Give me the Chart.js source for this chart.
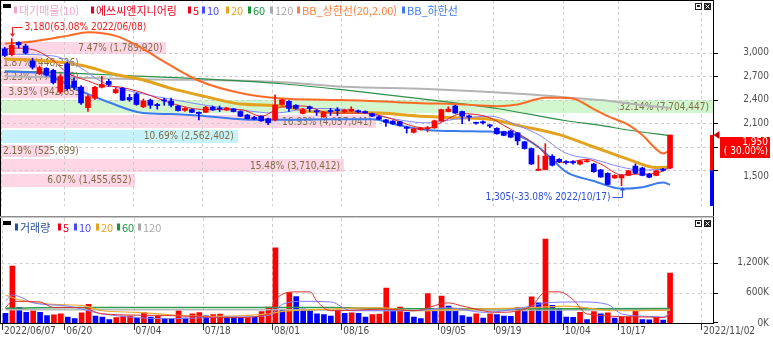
<!DOCTYPE html>
<html lang="ko"><head><meta charset="utf-8"><title>에쓰씨엔지니어링</title>
<script src="https://cdn.jsdelivr.net/npm/chart.js@4.4.1/dist/chart.umd.min.js"></script>
<style>
html,body{margin:0;padding:0;background:#fff;overflow:hidden;width:773px;height:341px}
#wrap{position:relative;width:773px;height:341px}
canvas{position:absolute;left:0;display:block}
</style></head><body>
<div id="wrap">
<canvas id="cp" width="773" height="218" style="top:0;width:773px;height:218px"></canvas>
<canvas id="cv" width="773" height="123" style="top:218px;width:773px;height:123px"></canvas>
</div>
<script>
// ---------------- DATA ----------------
const dates = ['2022/06/07','2022/06/08','2022/06/09','2022/06/10','2022/06/13','2022/06/14','2022/06/15','2022/06/16','2022/06/17','2022/06/20','2022/06/21','2022/06/22','2022/06/23','2022/06/24','2022/06/27','2022/06/28','2022/06/29','2022/06/30','2022/07/01','2022/07/04','2022/07/05','2022/07/06','2022/07/07','2022/07/08','2022/07/11','2022/07/12','2022/07/13','2022/07/14','2022/07/15','2022/07/18','2022/07/19','2022/07/20','2022/07/21','2022/07/22','2022/07/25','2022/07/26','2022/07/27','2022/07/28','2022/07/29','2022/08/01','2022/08/02','2022/08/03','2022/08/04','2022/08/05','2022/08/08','2022/08/09','2022/08/10','2022/08/11','2022/08/12','2022/08/16','2022/08/17','2022/08/18','2022/08/19','2022/08/22','2022/08/23','2022/08/24','2022/08/25','2022/08/26','2022/08/29','2022/08/30','2022/08/31','2022/09/01','2022/09/02','2022/09/05','2022/09/06','2022/09/07','2022/09/08','2022/09/13','2022/09/14','2022/09/15','2022/09/16','2022/09/19','2022/09/20','2022/09/21','2022/09/22','2022/09/23','2022/09/26','2022/09/27','2022/09/28','2022/09/29','2022/09/30','2022/10/04','2022/10/05','2022/10/06','2022/10/07','2022/10/11','2022/10/12','2022/10/13','2022/10/14','2022/10/17','2022/10/18','2022/10/19','2022/10/20','2022/10/21','2022/10/24','2022/10/25','2022/10/26'];

const opens  = [3050,2975,3130,3085,2895,2735,2800,2775,2500,2860,2640,2560,2300,2420,2560,2635,2490,2545,2430,2475,2310,2395,2340,2400,2385,2320,2265,2275,2240,2240,2305,2290,2270,2285,2250,2206,2175,2190,2158,2143,2340,2380,2330,2226,2310,2260,2183,2260,2270,2245,2255,2260,2250,2222,2183,2144,2128,2120,2050,1985,2020,2030,2041,2132,2250,2321,2250,2195,2110,2120,2080,2036,1994,2002,1978,1864,1778,1500,1510,1680,1640,1610,1610,1580,1610,1580,1506,1462,1403,1403,1435,1553,1530,1450,1435,1515,1530];
const highs  = [3070,3180,3140,3110,2930,2830,2810,2790,2720,2880,2680,2580,2460,2570,2700,2660,2555,2560,2470,2490,2410,2410,2355,2420,2420,2330,2300,2285,2245,2315,2320,2320,2305,2290,2260,2215,2190,2195,2165,2464,2410,2390,2340,2290,2320,2270,2250,2290,2300,2280,2310,2270,2260,2230,2195,2150,2135,2125,2060,2035,2050,2060,2140,2280,2310,2330,2255,2205,2115,2130,2085,2045,2000,2010,1985,1870,1785,1690,1840,1700,1650,1625,1625,1630,1640,1590,1510,1470,1445,1445,1500,1580,1540,1460,1500,1525,1950];
const lows   = [2950,2960,3060,2985,2790,2720,2700,2600,2480,2520,2530,2340,2250,2400,2550,2570,2480,2390,2380,2330,2300,2290,2280,2330,2310,2255,2250,2235,2143,2235,2265,2250,2262,2245,2185,2155,2145,2125,2083,2130,2330,2250,2280,2220,2250,2200,2175,2200,2200,2240,2250,2235,2225,2185,2145,2060,2085,2065,1975,1975,2010,1990,2035,2125,2245,2225,2096,2130,2090,2090,2045,1960,1940,1915,1824,1770,1575,1495,1505,1555,1600,1580,1580,1570,1605,1475,1410,1315,1395,1305,1430,1455,1430,1405,1430,1490,1520];
const closes = [2965,3095,3100,2995,2815,2810,2715,2620,2695,2540,2560,2360,2440,2560,2595,2595,2530,2395,2400,2340,2385,2330,2325,2385,2330,2262,2290,2240,2225,2305,2270,2280,2295,2250,2190,2158,2155,2131,2107,2333,2400,2290,2290,2274,2290,2245,2238,2250,2260,2270,2280,2245,2235,2191,2152,2112,2093,2073,2035,2030,2040,2045,2132,2274,2280,2230,2190,2180,2100,2105,2065,1966,1946,1923,1876,1778,1580,1515,1680,1565,1610,1600,1595,1620,1620,1482,1415,1320,1435,1435,1494,1462,1435,1412,1494,1500,1950];
const volumes = [194000,1131000,306000,212000,244000,212000,150000,162000,181000,119000,87000,200000,369000,137000,119000,69000,106000,137000,140000,100000,206000,119000,131000,87000,75000,244000,100000,181000,206000,144000,169000,175000,125000,118000,112000,120000,115000,225000,319000,1494000,250000,606000,525000,275000,269000,181000,169000,137000,262000,194000,200000,194000,119000,169000,175000,694000,275000,319000,212000,119000,87000,587000,244000,537000,337000,244000,150000,119000,181000,100000,181000,169000,137000,131000,306000,225000,519000,400000,1669000,350000,275000,119000,115000,212000,69000,225000,181000,200000,100000,119000,125000,256000,69000,65000,119000,56000,994000];

// moving averages / bands: [day index, value]
const ma5   = [[0,3040],[1,3059],[4,3041],[7,2899],[9,2745],[12,2640],[14,2580],[16,2569],[20,2486],[24,2356],[29,2274],[34,2274],[37,2191],[40,2309],[43,2321],[47,2230],[52,2230],[56,2152],[59,2061],[61,2037],[63,2112],[66,2223],[70,2171],[72,2073],[74,1975],[77,1798],[79,1621],[81,1601],[84,1640],[86,1580],[89,1443],[91,1450],[94,1462],[96,1541]];
const ma10  = [[0,2982],[7,2959],[11,2805],[14,2628],[20,2474],[24,2407],[29,2329],[34,2270],[39,2230],[44,2289],[49,2277],[54,2191],[61,2105],[65,2152],[70,2191],[74,2073],[77,1955],[81,1719],[85,1640],[89,1541],[92,1502],[96,1521]];
const ma20  = [[0,2920],[5,2900],[11,2841],[16,2722],[20,2652],[24,2545],[29,2440],[34,2345],[40,2320],[44,2250],[49,2238],[54,2230],[60,2191],[65,2171],[70,2152],[74,2073],[80,1955],[85,1798],[90,1639],[94,1535],[96,1541]];
const ma60  = [[0,2770],[11,2734],[20,2699],[28,2669],[40,2604],[49,2525],[62,2392],[71,2289],[81,2132],[86,2073],[90,2014],[96,1943]];
const ma120 = [[0,2699],[20,2663],[40,2624],[49,2565],[61,2537],[76,2466],[83,2415],[87,2388],[92,2329],[96,2297]];
const bbUp  = [[0,3116],[4,3144],[9,3215],[12,3262],[16,3215],[19,3097],[22,2939],[28,2643],[34,2486],[40,2415],[46,2400],[52,2388],[60,2356],[65,2345],[71,2318],[74,2341],[78,2427],[80,2427],[82,2415],[85,2280],[87,2191],[90,2080],[92,1950],[94,1770],[95,1715],[96,1755]];
const bbLow = [[0,2758],[5,2743],[8,2643],[11,2510],[15,2368],[20,2230],[24,2218],[29,2191],[36,2144],[40,2144],[47,2152],[53,2152],[57,2073],[61,2014],[66,2000],[70,1994],[74,1946],[77,1798],[79,1640],[81,1480],[85,1364],[89,1266],[92,1285],[95,1344],[96,1317]];

const vma5   = [[0,306000],[1,431000],[5,419000],[7,306000],[11,306000],[14,181000],[23,150000],[33,106000],[38,181000],[39,463000],[42,619000],[44,619000],[45,431000],[47,244000],[55,275000],[59,244000],[64,400000],[66,337000],[71,212000],[76,337000],[78,619000],[80,619000],[82,463000],[84,181000],[93,119000],[95,106000],[96,181000]];
const vma10  = [[0,431000],[1,556000],[2,525000],[4,400000],[9,337000],[14,181000],[23,87000],[33,119000],[38,150000],[40,369000],[43,431000],[47,419000],[50,244000],[54,244000],[59,244000],[64,306000],[69,212000],[76,337000],[78,400000],[83,419000],[87,369000],[89,181000],[93,131000],[95,119000],[96,194000]];
const vma20  = [[0,556000],[2,463000],[7,369000],[11,350000],[14,244000],[19,212000],[28,131000],[38,181000],[40,231000],[47,275000],[54,306000],[59,244000],[66,275000],[76,306000],[81,337000],[88,244000],[96,256000]];
const vma60  = [[0,294000],[9,306000],[47,306000],[57,281000],[96,287000]];
const vma120 = [[0,262000],[40,262000],[57,250000],[96,262000]];

// supply zones (대기매물), bottom to top
const bandEdges = [1305,1492.5,1680,1867.5,2055,2242.5,2430,2617.5,2805,2992.5,3180];
const bandPct   = [6.07,15.48,2.19,10.69,16.93,32.14,3.93,3.23,1.87,7.47];
const bandVol   = [1455652,3710412,525699,2562402,4057041,7704447,942655,774168,448226,1789920];

// axes
const tickIdx    = [0,9,19,29,39,49,63,71,81,89,101];
const tickLabels = ['2022/06/07','06/20','07/04','07/18','08/01','08/16','09/05','09/19','10/04','10/17','2022/11/02'];
const priceTicks = [1500,1800,2100,2400,2700,3000];
const volTicks   = [0,600000,1200000];

const legendMain = [['대기매물(10)','#f2a6c9'],['에쓰씨엔지니어링','#e8001e'],['5','#e8001e'],['10','#4848ff'],['20','#e6a11d'],['60','#15963a'],['120','#a9a9a9'],['BB_상한선(20,2.00)','#ff7d3a'],['BB_하한선','#3d7cf0']];
const legendVol  = [['거래량','#27509b'],['5','#e8001e'],['10','#4848ff'],['20','#e6a11d'],['60','#15963a'],['120','#a9a9a9']];

// ---------------- RENDER ----------------
const NUM = "'DejaVu Sans Condensed','Liberation Sans Narrow','DejaVu Sans',sans-serif";
const KR  = "'Noto Sans CJK KR','Noto Sans',sans-serif";
const RED = '#ff0000', BLUE = '#0000ff';
Chart.defaults.font.family = NUM;
Chart.defaults.font.size = 10;
Chart.defaults.color = '#505050';

const fmt = v => v.toLocaleString('en-US');
const idx = closes.map((_, i) => i);
const candleCol = idx.map(i => closes[i] >= opens[i] ? RED : BLUE);
const volCol = idx.map(i => (i > 0 && volumes[i] > volumes[i - 1]) ? RED : BLUE);
const X_MIN = -0.55, X_MAX = 102.2;

function seg(ctx, x1, y1, x2, y2) { ctx.beginPath(); ctx.moveTo(x1, y1); ctx.lineTo(x2, y2); ctx.stroke(); }
const hp = v => Math.round(v) + 0.5;
function lineDs(pairs, color, w, order) {
  return { type: 'line', data: pairs.map(([i, v]) => ({ x: i, y: v })), borderColor: color, borderWidth: w,
    pointRadius: 0, fill: false, cubicInterpolationMode: 'monotone', order };
}
function drawLegend(ctx, items, xs, yMid) {
  ctx.save(); ctx.font = '11px ' + KR; ctx.textBaseline = 'middle'; ctx.textAlign = 'left';
  items.forEach(([t, c], k) => { ctx.fillStyle = c; ctx.fillRect(xs[k], yMid - 3.5, 3, 7); ctx.fillText(t, xs[k] + 5, yMid + 0.5); });
  ctx.fillStyle = '#000'; ctx.fillRect(3, yMid - 6, 8, 4);
  ctx.restore();
}
function drawIcons(ctx, x, y) {
  ctx.save();
  ctx.fillStyle = '#222'; ctx.fillRect(x, y, 7, 7); ctx.fillStyle = '#fff'; ctx.fillRect(x + 1, y + 1, 5, 5);
  ctx.fillStyle = '#222'; ctx.fillRect(x + 2, y + 2, 3, 2);
  ctx.fillStyle = '#222'; ctx.fillRect(x + 9, y, 7, 7);
  ctx.strokeStyle = '#fff'; ctx.lineWidth = 1;
  seg(ctx, x + 10.5, y + 1.5, x + 14.5, y + 5.5); seg(ctx, x + 14.5, y + 1.5, x + 10.5, y + 5.5);
  ctx.restore();
}
function vGrid(ctx, xs, top, bottom) {
  tickIdx.forEach(i => { const p = hp(xs.getPixelForValue(i - 0.5)); seg(ctx, p, top, p, bottom); });
}
// zone bar right end: share of the largest zone, mapped across the x scale's full range
function zoneRight(x, p) {
  const maxPct = Math.max(...bandPct);
  return x.getPixelForValue(X_MIN + (X_MAX - X_MIN) * p / maxPct);
}

const pricePlugin = {
  id: 'pricePanel',
  beforeDatasetsDraw(chart) {
    const { ctx, chartArea: a, scales: { x, y } } = chart;
    const last = closes[closes.length - 1];
    const maxPct = Math.max(...bandPct);
    ctx.save();
    // supply-zone bars
    bandPct.forEach((p, k) => {
      const lo = bandEdges[k], hi = bandEdges[k + 1];
      const top = y.getPixelForValue(hi) + 3, bot = y.getPixelForValue(lo) + 1;
      const right = zoneRight(x, p);
      let col = '#ffd6e6';
      if (p === maxPct) col = '#d2f7cf';
      else if (last >= lo && last < hi) col = '#c6f2fc';
      ctx.fillStyle = col;
      ctx.fillRect(a.left, Math.round(top), Math.round(right - a.left), Math.round(bot) - Math.round(top));
    });
    // grid
    ctx.strokeStyle = '#cdcdcd'; ctx.lineWidth = 1; ctx.setLineDash([3, 3]);
    priceTicks.forEach(v => { const p = hp(y.getPixelForValue(v)); seg(ctx, a.left, p, a.right, p); });
    vGrid(ctx, x, 0, a.bottom);
    ctx.setLineDash([]);
    // zone labels
    ctx.font = '10px ' + NUM; ctx.textBaseline = 'middle'; ctx.textAlign = 'left'; ctx.fillStyle = '#7f6d45';
    bandPct.forEach((p, k) => {
      const top = y.getPixelForValue(bandEdges[k + 1]) + 3, bot = y.getPixelForValue(bandEdges[k]) + 1;
      const right = zoneRight(x, p);
      const t = p.toFixed(2) + '% (' + fmt(bandVol[k]) + ')';
      const w = ctx.measureText(t).width;
      ctx.fillText(t, Math.max(a.left + 2, right - 4 - w), (top + bot) / 2 + 0.5);
    });
    ctx.restore();
  },
  afterDatasetsDraw(chart) {
    const { ctx, chartArea: a, scales: { x, y } } = chart;
    const n = closes.length, last = closes[n - 1], prev = closes[n - 2];
    ctx.save();
    let hi = 0, lo = 0;
    highs.forEach((v, i) => { if (v > highs[hi]) hi = i; });
    lows.forEach((v, i) => { if (v < lows[lo]) lo = i; });
    const pct = v => ((v / last - 1) * 100).toFixed(2);
    ctx.font = '10px ' + NUM; ctx.textBaseline = 'middle'; ctx.lineWidth = 1;
    // highest
    let cx = hp(x.getPixelForValue(hi)), cy = y.getPixelForValue(highs[hi]);
    let ly = hp(cy - 12);
    ctx.strokeStyle = ctx.fillStyle = '#ee1c1c';
    seg(ctx, cx, cy - 4, cx, ly); seg(ctx, cx, ly, cx + 10, ly);
    ctx.beginPath(); ctx.moveTo(cx - 2.5, cy - 5); ctx.lineTo(cx + 2.5, cy - 5); ctx.lineTo(cx, cy - 1.5); ctx.fill();
    ctx.textAlign = 'left';
    ctx.fillText(fmt(highs[hi]) + '(' + pct(highs[hi]) + '% ' + dates[hi] + ')', cx + 12, ly);
    // lowest
    cx = hp(x.getPixelForValue(lo)); cy = y.getPixelForValue(lows[lo]);
    ly = hp(cy + 11);
    ctx.strokeStyle = ctx.fillStyle = '#2c4fe0';
    seg(ctx, cx, cy + 4, cx, ly); seg(ctx, cx - 10, ly, cx, ly);
    ctx.beginPath(); ctx.moveTo(cx - 2.5, cy + 5); ctx.lineTo(cx + 2.5, cy + 5); ctx.lineTo(cx, cy + 1.5); ctx.fill();
    ctx.textAlign = 'right';
    ctx.fillText(fmt(lows[lo]) + '(' + pct(lows[lo]) + '% ' + dates[lo] + ')', cx - 12, ly);
    // current price bar on the right edge
    const yl = y.getPixelForValue(last), yp = y.getPixelForValue(prev);
    ctx.fillStyle = RED; ctx.fillRect(710, yl, 3, yp - yl);
    ctx.fillStyle = BLUE; ctx.fillRect(710, yp, 3, a.bottom - yp);
    // legend & icons
    drawLegend(ctx, legendMain, [14, 91, 188, 202, 226, 248, 270, 297, 402], 10);
    drawIcons(ctx, 695, 3);
    // frame
    ctx.strokeStyle = '#000'; ctx.lineWidth = 1;
    seg(ctx, 0.5, 0, 0.5, 217); seg(ctx, 0, 0.5, 714, 0.5); seg(ctx, 713.5, 0, 713.5, 218);
    ctx.strokeStyle = '#8c8c8c'; seg(ctx, 0, 216.5, 714, 216.5);
    ctx.strokeStyle = '#c8c8c8'; seg(ctx, 0, 217.5, 713, 217.5);
    ctx.restore();
  },
  afterDraw(chart) {
    const { ctx, scales: { y } } = chart;
    const n = closes.length, last = closes[n - 1], prev = closes[n - 2];
    ctx.save();
    ctx.strokeStyle = '#000'; ctx.lineWidth = 1;
    priceTicks.forEach(v => { const p = hp(y.getPixelForValue(v)); seg(ctx, 714, p, 718, p); });
    const yc = y.getPixelForValue(last);
    ctx.fillStyle = '#c80000';
    ctx.beginPath(); ctx.moveTo(713.5, yc); ctx.lineTo(719.5, yc - 4); ctx.lineTo(719.5, yc + 4); ctx.fill();
    ctx.fillStyle = RED; ctx.fillRect(720, Math.round(yc + 2), 50, 21);
    ctx.fillStyle = '#fff'; ctx.font = '10px ' + NUM; ctx.textAlign = 'right'; ctx.textBaseline = 'middle';
    ctx.fillText(fmt(last), 768, yc + 7);
    ctx.fillText('( ' + ((last / prev - 1) * 100).toFixed(2) + '%)', 768, yc + 16.5);
    ctx.restore();
  }
};

const volPlugin = {
  id: 'volPanel',
  beforeDatasetsDraw(chart) {
    const { ctx, chartArea: a, scales: { x, y } } = chart;
    ctx.save();
    ctx.strokeStyle = '#cdcdcd'; ctx.lineWidth = 1; ctx.setLineDash([3, 3]);
    volTicks.slice(1).forEach(v => { const p = hp(y.getPixelForValue(v)); seg(ctx, a.left, p, a.right, p); });
    vGrid(ctx, x, 0, a.bottom);
    ctx.restore();
  },
  afterDatasetsDraw(chart) {
    const { ctx, chartArea: a, scales: { x, y } } = chart;
    ctx.save();
    drawLegend(ctx, legendVol, [15, 58, 74, 96, 117, 138], 9);
    drawIcons(ctx, 695, 2);
    ctx.strokeStyle = '#000'; ctx.lineWidth = 1;
    seg(ctx, 0.5, 0, 0.5, a.bottom); seg(ctx, 713.5, 0, 713.5, a.bottom + 1);
    seg(ctx, 0, hp(a.bottom), 714, hp(a.bottom));
    ctx.strokeStyle = '#333';
    tickIdx.forEach(i => { const p = hp(x.getPixelForValue(i - 0.5)); seg(ctx, p, a.bottom + 1, p, a.bottom + 7); });
    ctx.strokeStyle = '#000';
    volTicks.forEach(v => { const p = Math.min(hp(y.getPixelForValue(v)), a.bottom - 0.5); seg(ctx, 714, p, 718, p); });
    ctx.restore();
  }
};

new Chart(document.getElementById('cp'), {
  type: 'bar',
  data: { datasets: [
    { label: 'body', data: idx.map(i => ({ x: i, y: [opens[i], closes[i]] })), backgroundColor: candleCol, barThickness: 5, grouped: false, order: 0, minBarLength: 1 },
    { label: 'wick', data: idx.map(i => ({ x: i, y: [lows[i], highs[i]] })), backgroundColor: candleCol, barThickness: 1, grouped: false, order: 0 },
    lineDs(ma120, '#b4b4b4', 2, 7),
    lineDs(ma60, '#2f8f4a', 1.2, 6),
    lineDs(bbUp, '#ff6a26', 2, 5),
    lineDs(bbLow, '#3b7bef', 2, 4),
    lineDs(ma20, '#e3a21e', 3, 3),
    lineDs(ma10, '#8484ff', 1, 2),
    lineDs(ma5, '#e22222', 1, 1)
  ] },
  options: {
    responsive: false, animation: false, devicePixelRatio: 1, events: [],
    layout: { padding: { left: 1, top: 1, right: 4, bottom: 1 } },
    plugins: { legend: { display: false }, tooltip: { enabled: false } },
    scales: {
      x: { type: 'linear', display: false, min: X_MIN, max: X_MAX, offset: false },
      y: { type: 'linear', position: 'right', min: 1045, max: 3596, beginAtZero: false,
        grid: { display: false, drawTicks: false }, border: { display: false },
        afterBuildTicks: s => { s.ticks = priceTicks.map(v => ({ value: v })); },
        afterFit: s => { s.width = 56; },
        ticks: { autoSkip: false, crossAlign: 'far', padding: 0, color: '#505050', font: { size: 10 },
          callback: (v, k) => k === 0 ? ['', fmt(v)] : fmt(v) } }
    }
  },
  plugins: [pricePlugin]
});

new Chart(document.getElementById('cv'), {
  type: 'bar',
  data: { datasets: [
    { label: '거래량', data: idx.map(i => ({ x: i, y: volumes[i] })), backgroundColor: volCol, barThickness: 5, grouped: false, order: 9 },
    lineDs(vma120, '#b8b8b8', 1.5, 5),
    lineDs(vma60, '#2e9a4e', 1.5, 4),
    lineDs(vma20, '#f0a830', 1.2, 3),
    lineDs(vma10, '#7c7cff', 1, 2),
    lineDs(vma5, '#e03030', 1, 1)
  ] },
  options: {
    responsive: false, animation: false, devicePixelRatio: 1, events: [],
    layout: { padding: { left: 1, top: 0, right: 4, bottom: 0 } },
    plugins: { legend: { display: false }, tooltip: { enabled: false } },
    scales: {
      x: { type: 'linear', min: X_MIN, max: X_MAX, offset: false,
        grid: { display: false, drawTicks: false }, border: { display: false },
        afterBuildTicks: s => { s.ticks = tickIdx.map(i => ({ value: i - 0.5 })); },
        afterFit: s => { s.height = 18; },
        ticks: { autoSkip: false, maxRotation: 0, minRotation: 0, align: 'start', labelOffset: 2, padding: 2,
          color: '#4a4a4a', font: { size: 10 }, callback: (v, k) => tickLabels[k] } },
      y: { type: 'linear', position: 'right', min: 0, max: 1968750, beginAtZero: false,
        grid: { display: false, drawTicks: false }, border: { display: false },
        afterBuildTicks: s => { s.ticks = volTicks.map(v => ({ value: v })); },
        afterFit: s => { s.width = 56; },
        ticks: { autoSkip: false, crossAlign: 'far', padding: 0, color: '#505050', font: { size: 10 },
          callback: v => fmt(v / 1000) + 'K' } }
    }
  },
  plugins: [volPlugin]
});
</script>
</body></html>
